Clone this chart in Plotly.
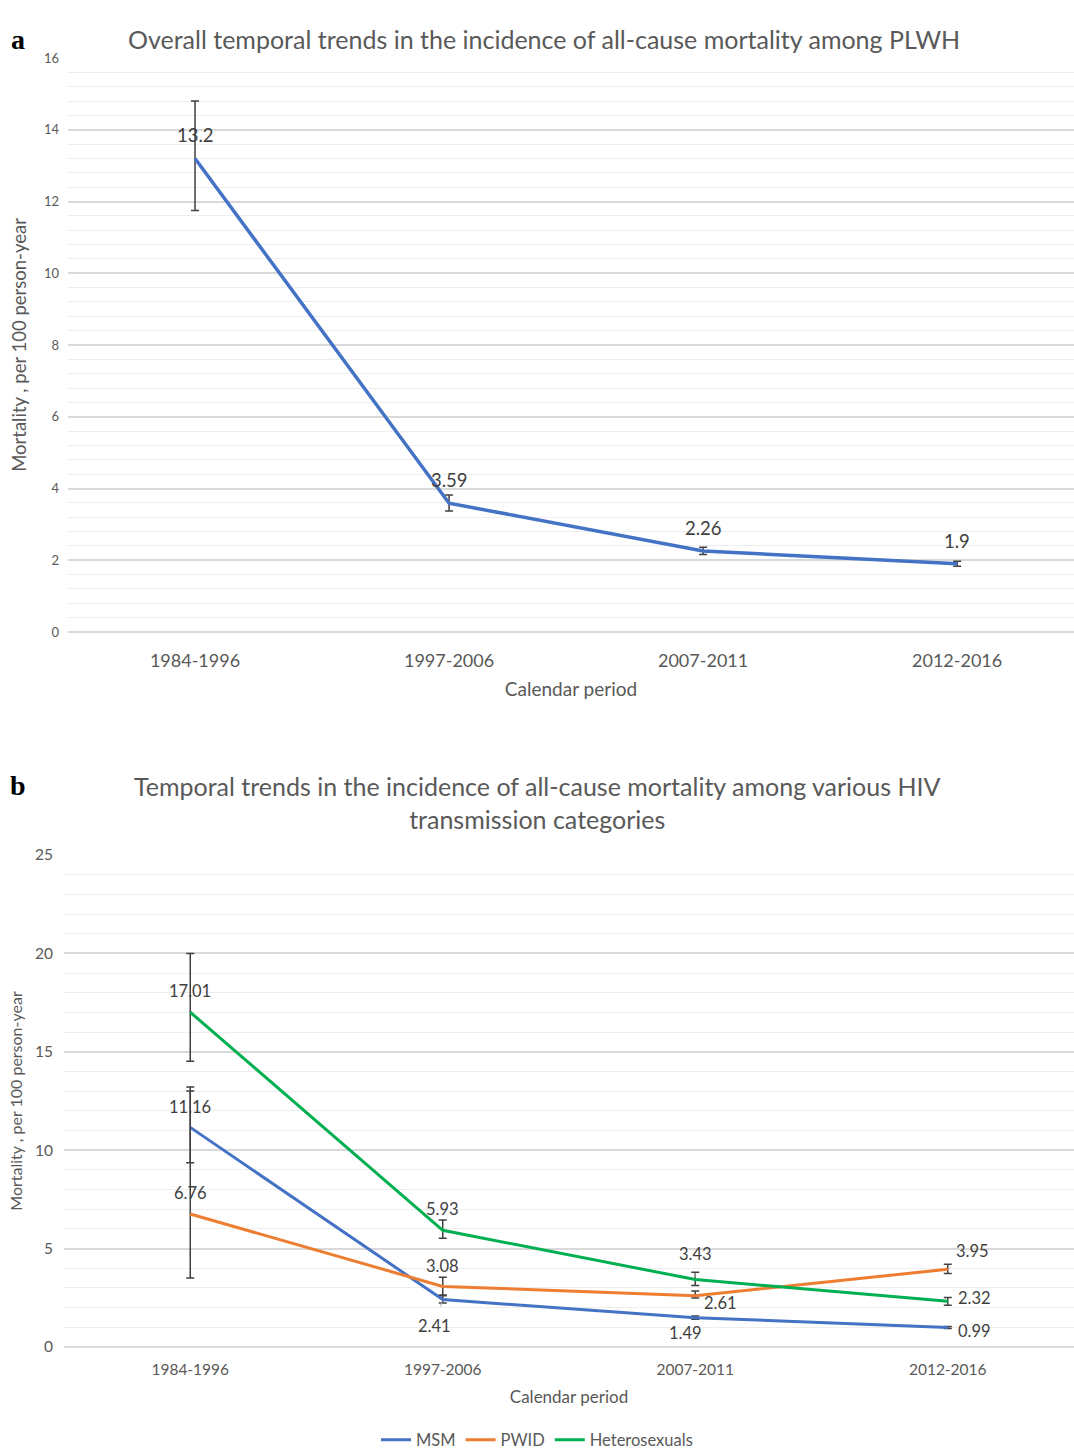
import plotly.graph_objects as go

periods = ["1984-1996", "1997-2006", "2007-2011", "2012-2016"]

overall = [13.2, 3.59, 2.26, 1.9]
overall_plus = [1.6, 0.23, 0.1, 0.07]
overall_minus = [1.45, 0.22, 0.1, 0.07]

msm = [11.16, 2.41, 1.49, 0.99]
msm_plus = [2.05, 0.2, 0.08, 0.05]
msm_minus = [1.8, 0.18, 0.08, 0.05]

pwid = [6.76, 3.08, 2.61, 3.95]
pwid_plus = [6.25, 0.47, 0.23, 0.25]
pwid_minus = [3.26, 0.44, 0.12, 0.22]

hetero = [17.01, 5.93, 3.43, 2.32]
hetero_plus = [2.99, 0.52, 0.37, 0.2]
hetero_minus = [2.49, 0.4, 0.3, 0.2]

FONT = "Lato"
TXT = "#404040"
AX = "#595959"
BLUE = "#4472C4"
ORANGE = "#ED7D31"
GREEN = "#00B050"

fig = go.Figure()

def err(p, m):
    return dict(type="data", array=p, arrayminus=m, color="#404040", thickness=1.5, width=4)

fig.add_trace(go.Scatter(x=periods, y=overall, mode="lines", line=dict(color=BLUE, width=3.5),
                         error_y=err(overall_plus, overall_minus), showlegend=False,
                         xaxis="x", yaxis="y"))

for name, vals, p, m, col in [("MSM", msm, msm_plus, msm_minus, BLUE),
                              ("PWID", pwid, pwid_plus, pwid_minus, ORANGE),
                              ("Heterosexuals", hetero, hetero_plus, hetero_minus, GREEN)]:
    fig.add_trace(go.Scatter(x=periods, y=vals, mode="lines", name=name,
                             line=dict(color=col, width=3),
                             error_y=err(p, m), xaxis="x2", yaxis="y2"))

ann = []
# panel a labels
for i, v in enumerate(overall):
    ann.append(dict(x=periods[i], y=v, xref="x", yref="y", text=str(v), showarrow=False,
                    yshift=23, font=dict(family=FONT, size=18.5, color=TXT)))

# panel b labels: (series values, index, xshift, yshift, leader)
b_labels = [
    (hetero, 0, 0, 21, None), (msm, 0, 0, 20, None), (pwid, 0, 0, 21, None),
    (hetero, 1, 0, 21, None), (pwid, 1, 0, 20, None), (msm, 1, -8, -29, (-8, 26)),
    (hetero, 2, 0, 29, (0, -26)), (pwid, 2, 25, -7, None), (msm, 2, -10, -15, None),
    (pwid, 3, 25, 21, (25, -18)), (hetero, 3, 27, 3, None), (msm, 3, 27, -3, None),
]
for vals, i, xs, ys, lead in b_labels:
    txt = f"{vals[i]:.2f}"
    if lead is None:
        ann.append(dict(x=periods[i], y=vals[i], xref="x2", yref="y2", text=txt, showarrow=False,
                        xshift=xs, yshift=ys, font=dict(family=FONT, size=16.5, color=TXT)))
    else:
        ann.append(dict(x=periods[i], y=vals[i], xref="x2", yref="y2", text=txt, showarrow=True,
                        arrowhead=0, arrowwidth=1, arrowcolor="#a6a6a6", ax=lead[0], ay=lead[1],
                        standoff=2, startstandoff=8, font=dict(family=FONT, size=16.5, color=TXT)))

# titles and panel letters
ann += [
    dict(x=0.5065, y=1 - 22 / 1449, xref="paper", yref="paper", showarrow=False,
         text="Overall temporal trends in the incidence of all-cause mortality among PLWH",
         font=dict(family=FONT, size=25, color=AX)),
    dict(x=0.5, y=1 - 802 / 1449, xref="paper", yref="paper", showarrow=False,
         text="Temporal trends in the incidence of all-cause mortality among various HIV<br>transmission categories",
         font=dict(family=FONT, size=25, color=AX)),
    dict(x=18 / 1074, y=1 - 22 / 1449, xref="paper", yref="paper", showarrow=False, xanchor="center",
         text="<b>a</b>", font=dict(family="Liberation Serif", size=28, color="black")),
    dict(x=18 / 1074, y=1 - 786 / 1449, xref="paper", yref="paper", showarrow=False, xanchor="center",
         text="<b>b</b>", font=dict(family="Liberation Serif", size=28, color="black")),
]

grid_major = "#d9d9d9"
grid_minor = "#eeeeee"

fig.update_layout(
    width=1074, height=1449,
    margin=dict(l=0, r=0, t=0, b=0, autoexpand=False),
    paper_bgcolor="white", plot_bgcolor="white",
    font=dict(family=FONT, color=AX),
    annotations=ann,
    legend=dict(orientation="h", x=0.5, xanchor="center", y=1 - 1440 / 1449, yanchor="middle",
                font=dict(family=FONT, size=16.5, color=AX), itemwidth=30, tracegroupgap=0),
    xaxis=dict(domain=[68 / 1074, 1], range=[-0.5, 3.46], anchor="y", showgrid=False,
               showline=False, ticks="", tickfont=dict(size=18, color=AX), ticklabelstandoff=16,
               title=dict(text="Calendar period", font=dict(size=19, color=AX), standoff=12)),
    yaxis=dict(domain=[1 - 632 / 1449, 1 - 58 / 1449], range=[0, 16], anchor="x", dtick=2,
               gridcolor=grid_major, gridwidth=1.5, zeroline=True, zerolinecolor=grid_major,
               zerolinewidth=1.5, ticks="",
               tickfont=dict(size=13, color=AX), ticklabelstandoff=8,
               minor=dict(dtick=0.4, showgrid=True, gridcolor=grid_minor, gridwidth=1),
               title=dict(text="Mortality , per 100 person-year", font=dict(size=18.5, color=AX), standoff=12)),
    xaxis2=dict(domain=[64 / 1074, 1], range=[-0.5, 3.5], anchor="y2", showgrid=False,
                showline=False, ticks="", tickfont=dict(size=15.5, color=AX), ticklabelstandoff=11,
                title=dict(text="Calendar period", font=dict(size=17, color=AX), standoff=14)),
    yaxis2=dict(domain=[1 - 1347 / 1449, 1 - 855 / 1449], range=[0, 25], anchor="x2", dtick=5,
                gridcolor=grid_major, gridwidth=1.5, zeroline=True, zerolinecolor=grid_major,
                zerolinewidth=1.5, ticks="",
                tickfont=dict(size=15.5, color=AX), ticklabelstandoff=10,
                minor=dict(dtick=1, showgrid=True, gridcolor=grid_minor, gridwidth=1),
                title=dict(text="Mortality , per 100 person-year", font=dict(size=16, color=AX), standoff=8)),
)

fig.write_html("out.html", config={"displayModeBar": False},
               post_script="document.body.style.margin='0';")
